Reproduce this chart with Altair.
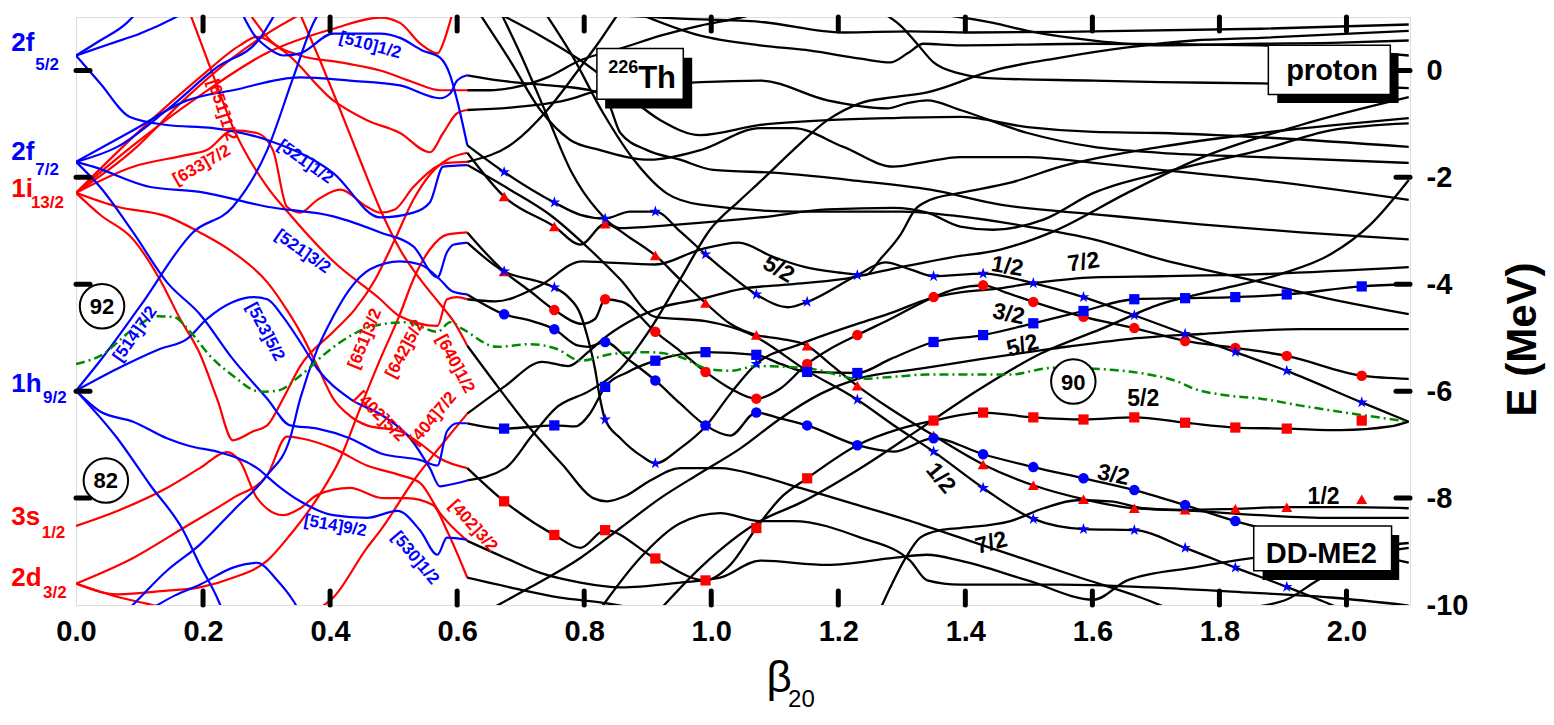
import altair as alt
import pandas as pd

# ---------------- axis values ----------------
X_LABELS = [0.0, 0.2, 0.4, 0.6, 0.8, 1.0, 1.2, 1.4, 1.6, 1.8, 2.0]
X_TICKS = [0.2, 0.4, 0.6, 0.8, 1.0, 1.2, 1.4, 1.6, 1.8, 2.0]
Y_LABELS = [0, -2, -4, -6, -8, -10]
Y_TICKS = [0, -2, -4, -6, -8]

# ---------------- blue (negative parity) levels, beta < 0.6 ----------------
B1 = [(0.0, 0.28), (0.038, 0.56), (0.080, 0.89), (0.093, 1.05)]
B2 = [(0.0, 0.28), (0.054, 0.50), (0.101, 0.69), (0.156, 0.99), (0.17, 1.08)]
B3 = [(0.0, 0.28), (0.038, -0.24), (0.085, -0.87), (0.143, -1.02), (0.216, -1.08), (0.301, -1.30),
      (0.405, -1.92), (0.479, -2.75), (0.531, -2.66), (0.557, -2.47), (0.578, -1.80), (0.616, -1.77)]
B4 = [(0.0, -1.71), (0.090, -1.12), (0.175, -0.56), (0.247, -0.37), (0.353, -0.13), (0.431, -0.19),
      (0.510, -0.28), (0.573, -0.52), (0.589, -0.43), (0.600, -0.19), (0.616, -0.09)]
B5 = [(0.262, 1.05), (0.279, 0.69), (0.301, 0.43), (0.326, 0.28), (0.353, 0.32), (0.405, 0.69),
      (0.479, 0.69), (0.510, 0.61), (0.546, 0.37), (0.573, 0.24), (0.589, -0.09), (0.600, -0.56), (0.616, -1.40)]
B6 = [(0.0, -1.71), (0.027, -1.80), (0.117, -2.18), (0.195, -2.27), (0.301, -2.55), (0.405, -2.73),
      (0.479, -3.03), (0.531, -3.29), (0.569, -3.87), (0.584, -3.40), (0.594, -3.26), (0.616, -3.22)]
B7 = [(0.0, -1.71), (0.038, -2.18), (0.090, -3.03), (0.143, -3.96), (0.195, -4.56), (0.247, -5.40),
      (0.301, -6.14), (0.337, -6.64), (0.380, -6.70), (0.431, -6.88), (0.479, -7.16), (0.542, -7.29),
      (0.569, -7.39), (0.584, -6.75), (0.600, -6.60), (0.616, -6.60)]
B8 = [(0.0, -1.71), (0.065, -1.43), (0.143, -0.74), (0.222, 0.06), (0.290, 0.61), (0.313, 1.05)]
B9 = [(0.0, -5.99), (0.065, -5.58), (0.132, -5.21), (0.175, -5.02), (0.206, -4.65), (0.247, -4.33),
      (0.279, -4.24), (0.301, -4.28), (0.326, -4.61), (0.353, -5.08), (0.380, -5.58), (0.431, -6.14),
      (0.483, -6.46), (0.526, -6.88), (0.557, -7.44), (0.573, -7.78), (0.584, -7.76), (0.616, -7.67)]
B10 = [(0.0, -5.99), (0.038, -5.43), (0.101, -4.41), (0.184, -3.03), (0.247, -2.55), (0.301, -1.49),
       (0.342, -0.13), (0.373, 0.87), (0.381, 1.05)]
B12 = [(0.077, -10.14), (0.090, -9.99), (0.143, -9.36), (0.195, -8.87), (0.247, -8.24), (0.301, -7.57),
       (0.337, -6.88), (0.353, -6.14), (0.380, -5.21), (0.405, -4.60), (0.431, -4.09), (0.463, -3.72),
       (0.510, -3.57), (0.542, -3.63), (0.573, -3.91), (0.592, -4.13), (0.616, -4.19)]
B13 = [(0.0, -5.99), (0.038, -6.38), (0.090, -6.57), (0.143, -6.88), (0.180, -7.03), (0.222, -7.13),
       (0.285, -7.44), (0.317, -7.76), (0.353, -8.06), (0.405, -8.32), (0.458, -8.37), (0.506, -8.24),
       (0.542, -8.61), (0.569, -9.06), (0.584, -8.74), (0.616, -8.78)]
B14 = [(0.0, -5.99), (0.065, -6.88), (0.117, -7.76), (0.169, -8.61), (0.195, -9.25), (0.222, -9.86), (0.230, -10.08)]
B15 = [(0.117, -10.08), (0.156, -9.82), (0.195, -9.62), (0.247, -9.30), (0.285, -9.21), (0.317, -9.54),
       (0.342, -9.92), (0.350, -10.08)]

# ---------------- red (positive parity) levels, beta < 0.6 ----------------
R1 = [(0.0, -2.29), (0.090, -1.49), (0.169, -0.56), (0.247, 0.24), (0.301, 0.69), (0.353, 1.05)]
R2 = [(0.0, -2.29), (0.101, -1.12), (0.195, -0.13), (0.258, 0.47), (0.285, 0.63), (0.326, 0.37),
      (0.405, -0.56), (0.458, -0.93), (0.510, -1.17), (0.557, -1.53), (0.578, -1.17), (0.600, -0.80), (0.616, -0.74)]
R3 = [(0.0, -2.29), (0.090, -1.80), (0.175, -1.58), (0.206, -1.49), (0.247, -1.12), (0.285, -1.17),
      (0.310, -1.49), (0.332, -2.55), (0.353, -2.66), (0.380, -2.42), (0.416, -2.23), (0.458, -2.55),
      (0.479, -2.66), (0.502, -2.60), (0.531, -2.18), (0.584, -1.73), (0.616, -1.71)]
R4 = [(0.180, 1.05), (0.219, -0.19), (0.247, -1.06), (0.301, -2.18), (0.337, -2.70), (0.405, -3.57),
      (0.479, -4.28), (0.510, -4.60), (0.569, -4.78), (0.584, -4.28), (0.600, -4.24), (0.616, -4.28)]
R5 = [(0.0, -2.29), (0.065, -2.55), (0.143, -2.73), (0.195, -3.03), (0.247, -3.40), (0.301, -3.96),
      (0.326, -4.37), (0.353, -4.89), (0.380, -5.53), (0.405, -6.14), (0.431, -6.46), (0.458, -6.64),
      (0.510, -6.75), (0.542, -6.98), (0.573, -7.26), (0.616, -7.44)]
R6 = [(0.0, -2.29), (0.038, -2.70), (0.090, -3.16), (0.132, -3.91), (0.164, -4.65), (0.195, -5.30),
      (0.222, -6.14), (0.247, -6.92), (0.279, -6.75), (0.301, -6.64), (0.326, -6.14), (0.353, -5.53),
      (0.405, -4.89), (0.439, -4.47), (0.471, -3.91), (0.502, -3.16), (0.531, -2.42), (0.557, -1.95),
      (0.584, -1.67), (0.616, -1.54)]
R7 = [(0.381, -10.08), (0.405, -9.86), (0.458, -8.93), (0.479, -8.61), (0.531, -7.68), (0.584, -6.88), (0.616, -6.42)]
R8 = [(0.0, -9.60), (0.090, -9.12), (0.169, -8.56), (0.247, -8.00), (0.301, -7.57), (0.332, -6.85),
      (0.353, -6.88), (0.405, -7.07), (0.458, -7.39), (0.510, -7.57), (0.542, -7.72), (0.573, -8.28), (0.616, -8.80)]
R9 = [(0.0, -9.60), (0.065, -9.80), (0.143, -9.73), (0.195, -9.67), (0.247, -9.49), (0.301, -9.17),
      (0.337, -8.69), (0.380, -8.00), (0.416, -7.26), (0.447, -6.33), (0.479, -5.40), (0.510, -4.56),
      (0.531, -3.91), (0.557, -3.35), (0.584, -3.07), (0.616, -3.03)]
R10 = [(0.0, -8.52), (0.065, -8.24), (0.143, -7.81), (0.195, -7.44), (0.238, -7.14), (0.258, -7.31),
       (0.285, -8.00), (0.326, -8.32), (0.353, -8.19), (0.380, -7.94), (0.431, -7.81), (0.483, -8.00),
       (0.521, -8.00), (0.562, -8.13), (0.584, -8.61), (0.616, -9.49)]
R11 = [(0.0, -9.60), (0.069, -9.86), (0.117, -9.99), (0.164, -10.10)]
R12 = [(0.0, -2.29), (0.090, -1.40), (0.195, -0.47), (0.301, 0.33), (0.405, 0.78), (0.479, 0.99),
       (0.510, 0.89), (0.542, 0.50), (0.569, 0.32), (0.581, 0.61), (0.592, 1.05)]
R13 = [(0.274, 1.05), (0.306, 0.56), (0.353, 0.28), (0.416, 0.15), (0.479, 0.00), (0.531, -0.22),
       (0.573, -0.37), (0.616, -0.37)]
R14 = [(0.353, 1.05), (0.384, 0.19), (0.416, -0.74), (0.447, -1.67), (0.479, -2.60), (0.510, -3.35),
       (0.542, -3.91), (0.573, -4.37), (0.597, -4.74), (0.616, -5.15)]

# ---------------- black levels, beta > 0.6 ----------------
K1 = [(0.616, -1.40), (0.674, -1.90), (0.753, -2.47), (0.794, -2.70), (0.833, -2.77), (0.872, -2.64),
      (0.912, -2.64), (0.951, -3.01), (0.991, -3.44), (1.030, -3.83), (1.071, -4.19), (1.121, -4.43),
      (1.151, -4.33), (1.230, -3.83), (1.274, -3.59), (1.313, -3.72), (1.350, -3.85), (1.428, -3.80),
      (1.507, -3.98), (1.586, -4.24), (1.666, -4.58), (1.746, -4.93), (1.825, -5.27), (1.906, -5.62),
      (2.024, -6.21), (2.098, -6.57)]
K2 = [(0.616, -1.54), (0.674, -2.36), (0.753, -2.92), (0.794, -3.26), (0.833, -2.87), (0.872, -3.13),
      (0.912, -3.46), (0.951, -3.91), (0.991, -4.35), (1.030, -4.74), (1.071, -4.95), (1.109, -5.02),
      (1.151, -5.15), (1.187, -5.49), (1.230, -5.90), (1.282, -6.33), (1.350, -6.83), (1.428, -7.37),
      (1.507, -7.76), (1.586, -8.02), (1.666, -8.19), (1.746, -8.22), (1.825, -8.20), (1.906, -8.17),
      (2.006, -8.17), (2.098, -8.19)]
K3 = [(0.616, -4.19), (0.674, -4.56), (0.718, -4.69), (0.753, -4.84), (0.791, -5.15), (0.806, -5.17),
      (0.833, -5.08), (0.869, -5.40), (0.912, -5.80), (0.951, -6.23), (0.991, -6.64), (1.030, -6.83),
      (1.071, -6.40), (1.109, -6.51), (1.151, -6.64), (1.230, -7.01), (1.287, -7.13), (1.350, -6.88),
      (1.428, -7.18), (1.507, -7.42), (1.586, -7.63), (1.666, -7.85), (1.746, -8.13), (1.825, -8.43),
      (1.928, -8.74), (2.098, -9.21)]
K4 = [(0.616, -3.03), (0.674, -3.76), (0.715, -4.13), (0.753, -4.48), (0.797, -4.74), (0.817, -4.65),
      (0.833, -4.28), (0.860, -4.33), (0.912, -4.89), (0.951, -5.25), (0.991, -5.64), (1.030, -5.95),
      (1.071, -6.14), (1.109, -5.95), (1.151, -5.49), (1.187, -5.21), (1.230, -4.95), (1.282, -4.65),
      (1.350, -4.24), (1.384, -4.09), (1.428, -4.02), (1.463, -4.15), (1.507, -4.33), (1.586, -4.61),
      (1.666, -4.82), (1.746, -5.06), (1.825, -5.19), (1.906, -5.34), (2.024, -5.71), (2.098, -5.77)]
K5 = [(0.616, -6.60), (0.674, -6.70), (0.753, -6.64), (0.786, -6.66), (0.809, -6.42), (0.833, -5.92),
      (0.869, -5.64), (0.912, -5.43), (0.991, -5.27), (1.071, -5.32), (1.109, -5.49), (1.151, -5.64),
      (1.230, -5.66), (1.282, -5.40), (1.350, -5.08), (1.428, -4.95), (1.507, -4.73), (1.586, -4.50),
      (1.666, -4.28), (1.746, -4.26), (1.825, -4.24), (1.906, -4.19), (2.024, -4.04), (2.098, -4.00)]
K6 = [(0.616, -7.44), (0.674, -8.06), (0.753, -8.69), (0.794, -8.93), (0.833, -8.60), (0.912, -9.13),
      (0.991, -9.54), (1.030, -9.25), (1.071, -8.56), (1.109, -8.00), (1.151, -7.63), (1.230, -7.01),
      (1.298, -6.70), (1.350, -6.55), (1.428, -6.40), (1.507, -6.49), (1.586, -6.53), (1.666, -6.49),
      (1.746, -6.59), (1.825, -6.68), (1.906, -6.70), (1.991, -6.73), (2.069, -6.66), (2.098, -6.57)]
K7 = [(0.616, -3.22), (0.674, -3.76), (0.731, -3.96), (0.753, -4.06), (0.775, -4.24), (0.794, -4.56),
      (0.806, -5.02), (0.817, -5.58), (0.825, -6.14), (0.833, -6.53), (0.857, -6.88), (0.891, -7.22),
      (0.912, -7.35), (0.951, -7.07), (0.991, -6.66), (1.030, -6.05), (1.071, -5.49), (1.140, -5.12),
      (1.230, -4.74), (1.287, -4.52), (1.340, -4.28), (1.392, -4.15), (1.444, -4.09), (1.507, -3.98),
      (1.602, -3.87), (1.707, -3.85), (1.865, -3.81), (2.098, -3.68)]
K8 = [(0.616, -1.77), (0.683, -2.23), (0.746, -2.70), (0.809, -3.35), (0.857, -3.91), (0.912, -4.61),
      (0.991, -4.69), (1.061, -4.93), (1.151, -5.62), (1.230, -6.16), (1.290, -6.66), (1.350, -7.13),
      (1.428, -7.81), (1.507, -8.39), (1.586, -8.58), (1.666, -8.60), (1.746, -8.93), (1.825, -9.30),
      (1.906, -9.66), (1.975, -9.99), (1.998, -10.10)]
U1 = [(0.616, -0.09), (0.668, -0.19), (0.746, -0.28), (0.809, -0.37), (0.836, -0.56), (0.857, -1.17),
      (0.899, -1.49), (0.951, -1.67), (1.003, -1.86), (1.109, -1.92), (1.219, -2.05), (1.345, -2.23),
      (1.455, -2.51), (1.613, -2.70), (1.770, -2.88), (1.928, -3.03), (2.098, -3.16)]
U2 = [(0.616, -0.37), (0.652, -0.37), (0.688, -0.32), (0.742, -0.13), (0.794, 0.19), (0.857, 0.41),
      (0.920, 0.65), (0.983, 0.84), (1.046, 0.99), (1.077, 1.08)]
U3 = [(0.616, -0.74), (0.688, -0.69), (0.770, -0.56), (0.825, -0.37), (0.904, -0.28), (0.983, -0.22),
      (1.077, -0.19), (1.183, -0.56), (1.277, -0.71), (1.309, -0.61), (1.340, -0.56), (1.392, -0.74),
      (1.498, -1.17), (1.602, -1.43), (1.707, -1.54), (1.865, -1.62), (2.098, -1.73)]
U4 = [(0.616, -1.71), (0.688, -1.36), (0.742, -0.74), (0.794, 0.06), (0.825, 0.56), (0.846, 0.93), (0.857, 1.12)]
U5 = [(0.616, -4.28), (0.660, -4.32), (0.728, -4.04), (0.797, -3.57), (0.833, -3.59), (0.912, -3.63),
      (0.983, -3.35), (1.043, -3.22), (1.096, -3.48), (1.148, -3.68), (1.200, -3.78), (1.243, -3.83),
      (1.266, -3.53), (1.298, -3.07), (1.321, -2.60), (1.345, -2.42), (1.392, -2.29), (1.471, -2.10),
      (1.550, -1.80), (1.707, -1.43), (1.865, -1.17), (2.098, -0.89)]
U6 = [(0.616, -5.15), (0.663, -5.90), (0.715, -6.70), (0.767, -7.39), (0.814, -8.00), (0.836, -8.06),
      (0.865, -7.96), (0.904, -7.67), (0.951, -7.44), (1.014, -7.44), (1.077, -7.59), (1.140, -7.81),
      (1.219, -8.09), (1.298, -8.37), (1.392, -8.74), (1.487, -9.12), (1.581, -9.49), (1.676, -9.86), (1.723, -10.08)]
U7 = [(0.616, -6.42), (0.676, -5.90), (0.734, -5.45), (0.775, -5.53), (0.806, -5.27), (0.830, -5.02),
      (0.869, -4.71), (0.928, -4.41), (0.983, -4.28), (1.046, -4.09), (1.124, -4.00), (1.203, -3.91),
      (1.282, -3.72), (1.376, -3.50), (1.455, -3.35), (1.539, -3.01), (1.655, -2.29), (1.770, -1.64),
      (1.928, -1.02), (2.098, -0.50)]
U8 = [(0.616, -7.67), (0.676, -7.44), (0.718, -6.83), (0.754, -6.33), (0.809, -5.99), (0.857, -5.58),
      (0.904, -4.84), (0.951, -3.91), (0.998, -2.98), (1.046, -2.42), (1.077, -2.08), (1.129, -1.49),
      (1.183, -0.93), (1.235, -0.61), (1.287, -0.50), (1.340, -0.41), (1.444, 0.00), (1.550, 0.24),
      (1.655, 0.43), (1.759, 0.56), (1.865, 0.61), (2.098, 0.74)]
U9 = [(0.920, -10.08), (0.983, -9.30), (1.077, -8.43), (1.140, -8.09), (1.235, -7.44), (1.329, -6.70),
      (1.424, -5.95), (1.518, -5.30), (1.613, -4.84), (1.707, -4.37), (1.802, -4.09), (1.896, -3.81),
      (1.975, -3.44), (2.038, -2.88), (2.098, -2.05)]
U10 = [(0.616, -8.80), (0.676, -9.12), (0.731, -9.40), (0.794, -9.58), (0.857, -9.67), (0.951, -9.58),
       (1.014, -9.49), (1.077, -9.17), (1.183, -9.25), (1.287, -9.12), (1.340, -9.06), (1.392, -9.17),
       (1.498, -9.54), (1.602, -9.90), (1.655, -9.54), (1.759, -9.30), (1.854, -9.12), (1.975, -8.97), (2.098, -8.84)]
U11 = [(0.616, -9.49), (0.683, -9.67), (0.762, -9.86), (0.825, -9.95), (0.888, -10.08)]
U12 = [(0.652, -10.08), (0.715, -9.67), (0.794, -9.12), (0.857, -8.56), (0.920, -8.00), (0.983, -7.53),
       (1.046, -7.07), (1.109, -6.51), (1.172, -6.05), (1.230, -5.77), (1.329, -5.58), (1.424, -5.40),
       (1.534, -5.21), (1.660, -5.02), (1.770, -4.93), (1.928, -4.84), (2.098, -4.84)]
U13 = [(1.266, -10.08), (1.282, -9.67), (1.306, -9.12), (1.329, -8.74), (1.361, -8.60), (1.392, -8.56),
       (1.471, -8.43), (1.523, -8.19), (1.576, -8.04), (1.628, -8.06), (1.680, -8.19), (1.759, -8.24),
       (1.865, -8.32), (1.975, -8.37), (2.098, -8.37)]
U14 = [(0.825, -10.08), (0.888, -9.12), (0.951, -8.47), (1.014, -8.28), (1.077, -8.43), (1.129, -8.43),
       (1.235, -8.74), (1.313, -9.17), (1.340, -9.54), (1.392, -9.62), (1.550, -9.62), (1.691, -9.67),
       (1.849, -9.77), (1.975, -9.86), (2.098, -10.01)]
U16 = [(1.817, -10.08), (1.901, -9.92), (1.954, -9.54), (2.006, -9.21), (2.054, -9.02), (2.098, -8.93)]
TA = [(0.825, 1.05), (0.951, 0.97), (1.077, 0.91), (1.208, 0.71), (1.313, 0.73), (1.408, 0.71),
      (1.602, 0.73), (1.865, 0.78), (2.098, 0.86)]
TB = [(1.361, 1.05), (1.444, 0.89), (1.498, 0.74), (1.602, 0.56), (1.707, 0.47), (1.865, 0.50),
      (1.991, 0.52), (2.098, 0.56)]
TD = [(0.888, 1.05), (0.983, 0.65), (1.077, 0.47), (1.156, 0.37), (1.235, 0.22), (1.282, 0.15),
      (1.309, 0.32), (1.334, 0.50), (1.392, 0.47), (1.602, 0.50), (1.865, 0.47), (2.098, 0.28)]
TE = [(1.274, 1.05), (1.298, 0.84), (1.324, 0.50), (1.350, 0.15), (1.392, -0.06), (1.444, -0.15),
      (1.602, -0.19), (1.707, -0.22), (1.865, -0.24), (2.098, -0.33)]
TG = [(0.668, 1.05), (0.731, 0.65), (0.794, 0.19), (0.857, -0.37), (0.920, -0.93), (0.983, -1.21),
      (1.077, -1.02), (1.183, -0.93), (1.287, -0.89), (1.392, -0.87), (1.498, -1.06), (1.602, -1.15),
      (1.707, -1.17), (1.865, -1.25), (2.098, -1.43)]
TH = [(0.636, 1.05), (0.683, 0.19), (0.731, -0.74), (0.778, -1.30), (0.825, -1.49), (0.904, -1.67),
      (0.983, -1.49), (1.077, -1.08), (1.129, -1.08), (1.208, -1.43), (1.287, -1.80), (1.329, -1.73),
      (1.392, -1.62), (1.498, -1.62), (1.602, -1.73), (1.707, -1.86), (1.865, -2.05), (2.098, -2.42)]
TJ = [(0.670, 1.05), (0.700, 0.30), (0.740, -0.80), (0.780, -1.90), (0.820, -2.60), (0.857, -2.95),
      (0.951, -2.88), (1.077, -2.75), (1.183, -2.60), (1.287, -2.57), (1.340, -2.66), (1.392, -2.92),
      (1.444, -2.98), (1.523, -2.79), (1.602, -2.29), (1.707, -1.92), (1.865, -1.49), (1.975, -1.12), (2.098, -0.99)]
TM = [(0.740, 1.05), (0.780, 0.30), (0.830, -0.80), (0.880, -1.70), (0.930, -2.30), (0.983, -2.51),
      (1.140, -2.64), (1.298, -2.64), (1.392, -2.73), (1.498, -2.92), (1.602, -3.16), (1.707, -3.53),
      (1.865, -3.96), (1.975, -4.28), (2.098, -4.56)]

# ---------------- Fermi level (green dash-dot) ----------------
FERMI = [(0.0, -5.49), (0.038, -5.34), (0.090, -4.84), (0.128, -4.60), (0.153, -4.61), (0.180, -4.89),
         (0.211, -5.34), (0.247, -5.71), (0.290, -6.01), (0.317, -5.99), (0.353, -5.71), (0.395, -5.27),
         (0.431, -4.97), (0.468, -4.78), (0.521, -4.71), (0.569, -4.89), (0.589, -4.71), (0.609, -4.84),
         (0.663, -5.17), (0.715, -5.12), (0.757, -5.21), (0.794, -5.43), (0.846, -5.30), (0.899, -5.27),
         (0.951, -5.36), (0.994, -5.58), (1.030, -5.62), (1.072, -5.53), (1.156, -5.58), (1.235, -5.77),
         (1.287, -5.73), (1.340, -5.69), (1.392, -5.69), (1.471, -5.69), (1.523, -5.58), (1.539, -5.56),
         (1.602, -5.58), (1.680, -5.67), (1.734, -5.82), (1.759, -5.95), (1.813, -6.08), (1.865, -6.14),
         (1.928, -6.27), (2.098, -6.57)]

# ---------------- symbols on the black levels ----------------
STARS = [(0.674, -1.90), (0.753, -2.47), (0.833, -2.77), (0.912, -2.64), (0.991, -3.44), (1.071, -4.19),
         (1.151, -4.33), (1.230, -3.83), (1.350, -3.85), (1.428, -3.80), (1.507, -3.98), (1.586, -4.24),
         (1.666, -4.58), (1.746, -4.93), (1.825, -5.27), (1.906, -5.62), (2.024, -6.21),
         (0.674, -3.76), (0.753, -4.06), (0.833, -6.53), (0.912, -7.35), (0.991, -6.66), (1.071, -5.49),
         (1.230, -6.16), (1.350, -7.13), (1.428, -7.81), (1.507, -8.39), (1.586, -8.58), (1.666, -8.60),
         (1.746, -8.93), (1.825, -9.30), (1.906, -9.66)]
TRIANGLES = [(0.674, -2.36), (0.753, -2.92), (0.833, -2.87), (0.912, -3.46), (0.991, -4.35), (1.071, -4.95),
             (1.151, -5.15), (1.230, -5.90), (1.350, -6.83), (1.428, -7.37), (1.507, -7.76), (1.586, -8.02),
             (1.666, -8.19), (1.746, -8.22), (1.825, -8.20), (1.906, -8.17), (2.024, -8.02), (0.674, -3.76)]
BLUE_CIRCLES = [(0.674, -4.56), (0.753, -4.84), (0.833, -5.08), (0.912, -5.80), (0.991, -6.64), (1.071, -6.40),
                (1.151, -6.64), (1.230, -7.01), (1.350, -6.88), (1.428, -7.18), (1.507, -7.42), (1.586, -7.63),
                (1.666, -7.85), (1.746, -8.13), (1.825, -8.43)]
RED_CIRCLES = [(0.753, -4.48), (0.833, -4.28), (0.912, -4.89), (0.991, -5.64), (1.071, -6.14), (1.151, -5.49),
               (1.230, -4.95), (1.350, -4.24), (1.428, -4.02), (1.507, -4.33), (1.586, -4.61), (1.666, -4.82),
               (1.746, -5.06), (1.825, -5.19), (1.906, -5.34), (2.024, -5.71)]
BLUE_SQUARES = [(0.674, -6.70), (0.753, -6.64), (0.833, -5.92), (0.912, -5.43), (0.991, -5.27), (1.071, -5.32),
                (1.151, -5.64), (1.230, -5.66), (1.350, -5.08), (1.428, -4.95), (1.507, -4.73), (1.586, -4.50),
                (1.666, -4.28), (1.746, -4.26), (1.825, -4.24), (1.906, -4.19), (2.024, -4.04)]
RED_SQUARES = [(0.674, -8.06), (0.753, -8.69), (0.833, -8.60), (0.912, -9.13), (0.991, -9.54), (1.071, -8.56),
               (1.151, -7.63), (1.350, -6.55), (1.428, -6.40), (1.507, -6.49), (1.586, -6.53), (1.666, -6.49),
               (1.746, -6.59), (1.825, -6.68), (1.906, -6.70), (2.024, -6.55)]

# ---------------- text ----------------
SPH_MAIN = [("2f", -0.102, 0.37, "#0000ff"), ("2f", -0.102, -1.67, "#0000ff"), ("1i", -0.102, -2.36, "#ff0000"),
            ("1h", -0.102, -6.01, "#0000ff"), ("3s", -0.102, -8.50, "#ff0000"), ("2d", -0.102, -9.64, "#ff0000")]
SPH_SUB = [("5/2", -0.064, 0.00, "#0000ff"), ("7/2", -0.064, -1.95, "#0000ff"), ("13/2", -0.071, -2.57, "#ff0000"),
           ("9/2", -0.052, -6.23, "#0000ff"), ("1/2", -0.054, -8.74, "#ff0000"), ("3/2", -0.052, -9.86, "#ff0000")]
NILSSON = [("[510]1/2", 0.463, 0.47, 15, "#0000ff"), ("[651]1/2", 0.230, -0.74, 72, "#ff0000"),
           ("[633]7/2", 0.198, -1.77, 330, "#ff0000"), ("[521]1/2", 0.361, -1.71, 35, "#0000ff"),
           ("[521]3/2", 0.357, -3.39, 35, "#0000ff"), ("[514]7/2", 0.093, -4.93, 305, "#0000ff"),
           ("[523]5/2", 0.298, -4.89, 62, "#0000ff"), ("[651]3/2", 0.455, -5.02, 292, "#ff0000"),
           ("[642]5/2", 0.518, -5.21, 298, "#ff0000"), ("[640]1/2", 0.597, -5.49, 62, "#ff0000"),
           ("[402]5/2", 0.479, -6.47, 45, "#ff0000"), ("[404]7/2", 0.562, -6.51, 310, "#ff0000"),
           ("[514]9/2", 0.408, -8.52, 10, "#0000ff"), ("[530]1/2", 0.534, -9.12, 50, "#0000ff"),
           ("[402]3/2", 0.625, -8.52, 48, "#ff0000")]
OMEGA = [("5/2", 1.106, -3.72, 30), ("1/2", 1.466, -3.67, 10), ("7/2", 1.586, -3.59, 352),
         ("3/2", 1.468, -4.56, 12), ("5/2", 1.490, -5.15, 345), ("5/2", 1.680, -6.14, 0),
         ("3/2", 1.633, -7.57, 12), ("1/2", 1.361, -7.63, 50), ("7/2", 1.441, -8.84, 345),
         ("1/2", 1.964, -7.98, 0)]
MAGIC = [("92", 0.041, -4.41), ("82", 0.047, -7.67), ("90", 1.570, -5.82)]
BOXES = [(0.820, 0.956, 0.41, -0.54), (1.877, 2.069, 0.47, -0.45), (1.854, 2.071, -8.52, -9.36)]
SHADOWS = [(0.833, 0.970, 0.24, -0.71), (1.891, 2.082, 0.32, -0.61), (1.868, 2.083, -8.69, -9.53)]
BOX_TEXT = [("226", 0.838, -0.04, 18), ("Th", 0.885, -0.32, 31), ("proton", 1.905, -0.17, 29),
            ("DD-ME2", 1.873, -9.22, 29)]
AXIS_TITLE = [("\u03b2", 1.087, -11.62, 44), ("20", 1.121, -11.90, 24)]

W, H = 1334, 588
FONT = "Liberation Sans"
RED, BLUE, GREEN = "#ff0000", "#0000ff", "#008a00"

XS = alt.Scale(domain=[0, 2.1], nice=False, zero=False)
YS = alt.Scale(domain=[-10, 1], nice=False, zero=False)
XAX = alt.Axis(values=X_LABELS, format=".1f", labelFont=FONT, labelFontSize=29, labelFontWeight="bold",
               labelPadding=12, labelColor="black", ticks=False, domain=False, grid=False, title=None,
               labelFlush=False, labelOverlap=False)
YAX = alt.Axis(orient="right", values=Y_LABELS, labelExpr="'' + datum.value", labelFont=FONT,
               labelFontSize=29, labelFontWeight="bold", labelPadding=16, labelColor="black", ticks=False,
               domain=False, grid=False, labelFlush=False, labelOverlap=False,
               title="E (MeV)", titleFont=FONT, titleFontSize=42, titleFontWeight="bold", titleColor="black",
               titleAngle=270, titleX=112, titleY=322, titleAlign="center", titleBaseline="middle")


def X(f="beta"):
    return alt.X(f + ":Q", scale=XS, axis=XAX)


def Y(f="E"):
    return alt.Y(f + ":Q", scale=YS, axis=YAX)


def curves_df(curves):
    rows = []
    for name, pts in curves.items():
        for i, (b, e) in enumerate(pts):
            rows.append({"curve": name, "i": i, "beta": b, "E": e})
    return pd.DataFrame(rows)


def pts_df(pts):
    return pd.DataFrame({"beta": [p[0] for p in pts], "E": [p[1] for p in pts]})


def line_layer(curves, color, width=2.0):
    return alt.Chart(curves_df(curves)).mark_line(
        color=color, strokeWidth=width, interpolate="monotone", clip=True
    ).encode(x=X(), y=Y(), detail="curve:N", order="i:Q")


blue_lines = line_layer({"B1": B1, "B2": B2, "B3": B3, "B4": B4, "B5": B5, "B6": B6, "B7": B7, "B8": B8,
                         "B9": B9, "B10": B10, "B12": B12, "B13": B13, "B14": B14, "B15": B15}, BLUE, 2.2)
red_lines = line_layer({"R1": R1, "R2": R2, "R3": R3, "R4": R4, "R5": R5, "R6": R6, "R7": R7, "R8": R8,
                        "R9": R9, "R10": R10, "R11": R11, "R12": R12, "R13": R13, "R14": R14}, RED, 2.2)
black_lines = line_layer({"K1": K1, "K2": K2, "K3": K3, "K4": K4, "K5": K5, "K6": K6, "K7": K7, "K8": K8,
                          "U1": U1, "U2": U2, "U3": U3, "U4": U4, "U5": U5, "U6": U6, "U7": U7, "U8": U8,
                          "U9": U9, "U10": U10, "U11": U11, "U12": U12, "U13": U13, "U14": U14, "U16": U16,
                          "TA": TA, "TB": TB, "TD": TD, "TE": TE, "TG": TG, "TH": TH, "TJ": TJ, "TM": TM},
                         "black", 2.3)
fermi = alt.Chart(curves_df({"F": FERMI})).mark_line(
    color=GREEN, strokeWidth=2.5, strokeDash=[9, 4, 2, 4], interpolate="monotone", clip=True
).encode(x=X(), y=Y(), detail="curve:N", order="i:Q")

STAR_PATH = ("M0,-1L0.2245,-0.309L0.951,-0.309L0.363,0.118L0.588,0.809L0,0.382"
             "L-0.588,0.809L-0.363,0.118L-0.951,-0.309L-0.2245,-0.309Z")


def marker(pts, shape, color, size):
    return alt.Chart(pts_df(pts)).mark_point(
        shape=shape, filled=True, color=color, size=size, opacity=1, strokeWidth=0
    ).encode(x=X(), y=Y())


markers = [
    marker(TRIANGLES, "triangle-up", RED, 120),
    marker(RED_CIRCLES, "circle", RED, 110),
    marker(BLUE_CIRCLES, "circle", BLUE, 110),
    marker(RED_SQUARES, "square", RED, 105),
    marker(BLUE_SQUARES, "square", BLUE, 105),
    marker(STARS, STAR_PATH, BLUE, 150),
]

# inward frame ticks
tick_x = pd.DataFrame({"beta": X_TICKS})
tick_y = pd.DataFrame({"E": Y_TICKS})
tick_style = dict(color="black", strokeWidth=5, strokeCap="round")
ticks = [
    alt.Chart(tick_x).mark_rule(**tick_style).encode(x=X(), y=alt.value(0), y2=alt.value(14)),
    alt.Chart(tick_x).mark_rule(**tick_style).encode(x=X(), y=alt.value(H), y2=alt.value(H - 14)),
    alt.Chart(tick_y).mark_rule(**tick_style).encode(y=Y(), x=alt.value(0), x2=alt.value(14)),
    alt.Chart(tick_y).mark_rule(**tick_style).encode(y=Y(), x=alt.value(W), x2=alt.value(W - 14)),
]

# spherical labels
sph_main = alt.Chart(pd.DataFrame(SPH_MAIN, columns=["t", "beta", "E", "c"])).mark_text(
    font=FONT, fontWeight="bold", fontSize=26, align="left", baseline="alphabetic"
).encode(x=X(), y=Y(), text="t:N", color=alt.Color("c:N", scale=None))
sph_sub = alt.Chart(pd.DataFrame(SPH_SUB, columns=["t", "beta", "E", "c"])).mark_text(
    font=FONT, fontWeight="bold", fontSize=17, align="left", baseline="alphabetic"
).encode(x=X(), y=Y(), text="t:N", color=alt.Color("c:N", scale=None))

nilsson = alt.Chart(pd.DataFrame(NILSSON, columns=["t", "beta", "E", "a", "c"])).mark_text(
    font=FONT, fontWeight="bold", fontSize=17, align="center", baseline="middle"
).encode(x=X(), y=Y(), text="t:N", color=alt.Color("c:N", scale=None), angle=alt.Angle("a:Q", scale=None))

omega = alt.Chart(pd.DataFrame(OMEGA, columns=["t", "beta", "E", "a"])).mark_text(
    font=FONT, fontWeight="bold", fontSize=23, align="center", baseline="middle", color="black"
).encode(x=X(), y=Y(), text="t:N", angle=alt.Angle("a:Q", scale=None))

magic_df = pd.DataFrame(MAGIC, columns=["t", "beta", "E"])
magic_circ = alt.Chart(magic_df).mark_point(
    shape="circle", filled=True, fill="white", stroke="black", strokeWidth=2, size=1980, opacity=1
).encode(x=X(), y=Y())
magic_txt = alt.Chart(magic_df).mark_text(
    font=FONT, fontWeight="bold", fontSize=22, align="center", baseline="middle", color="black", dy=1
).encode(x=X(), y=Y(), text="t:N")

shadow = alt.Chart(pd.DataFrame(SHADOWS, columns=["x1", "x2", "y1", "y2"])).mark_rect(color="black").encode(
    x=X("x1"), x2="x2:Q", y=Y("y1"), y2="y2:Q")
boxes = alt.Chart(pd.DataFrame(BOXES, columns=["x1", "x2", "y1", "y2"])).mark_rect(
    fill="white", stroke="black", strokeWidth=1.5).encode(x=X("x1"), x2="x2:Q", y=Y("y1"), y2="y2:Q")
box_txt = alt.Chart(pd.DataFrame(BOX_TEXT, columns=["t", "beta", "E", "s"])).mark_text(
    font=FONT, fontWeight="bold", align="left", baseline="alphabetic", color="black"
).encode(x=X(), y=Y(), text="t:N", size=alt.Size("s:Q", scale=None))

xtitle = alt.Chart(pd.DataFrame(AXIS_TITLE, columns=["t", "beta", "E", "s"])).mark_text(
    font=FONT, align="left", baseline="alphabetic", color="black"
).encode(x=X(), y=Y(), text="t:N", size=alt.Size("s:Q", scale=None))

chart = alt.layer(
    red_lines, blue_lines, black_lines, fermi, *markers, *ticks,
    sph_main, sph_sub, nilsson, omega, magic_circ, magic_txt, shadow, boxes, box_txt, xtitle
).properties(
    width=W, height=H,
    autosize=alt.AutoSizeParams(type="none"),
    padding={"left": 68, "top": 9, "right": 136, "bottom": 116},
).configure_view(stroke="black", strokeWidth=5).configure(background="white")

chart.save("out.html", embed_options={"renderer": "svg", "actions": False})
